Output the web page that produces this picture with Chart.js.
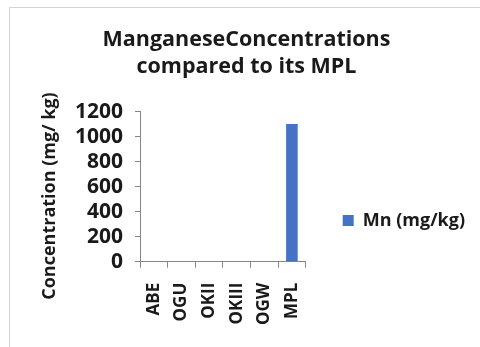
<!DOCTYPE html>
<html>
<head>
<meta charset="utf-8">
<script src="https://cdn.jsdelivr.net/npm/chart.js@4"></script>
<style>
  html, body { margin: 0; padding: 0; background: #fff; }
  #wrap { position: relative; width: 480px; height: 347px; overflow: hidden; }
  #frame { position: absolute; left: 9px; top: 7px; width: 500px; height: 400px;
           border-left: 1px solid #d4d4d4; border-top: 1px solid #d4d4d4; }
  canvas { position: absolute; left: 0; top: 0; }
</style>
</head>
<body>
<div id="wrap">
  <div id="frame"></div>
  <canvas id="chart" width="480" height="347"></canvas>
</div>
<script>
// chart data
const sites = ['ABE', 'OGU', 'OKII', 'OKIII', 'OGW', 'MPL'];
const mnValues = [0, 0, 0, 0, 0, 1100];
const yTicks = [0, 200, 400, 600, 800, 1000, 1200];

const fontFam = "'Open Sans', sans-serif";
const textColor = '#1a1a1a';
const axisColor = '#868686';

function drawChart() {
    const ctx = document.getElementById('chart').getContext('2d');

    const config = {
        type: 'bar',
        data: {
            labels: sites,
            datasets: [{
                label: 'Mn (mg/kg)',
                data: mnValues,
                backgroundColor: '#4472C4',
                categoryPercentage: 1,
                barPercentage: 0.42
            }]
        },
        options: {
            responsive: false,
            animation: false,
            layout: { padding: { left: 18, right: 5, top: 0, bottom: 7 } },
            plugins: {
                title: {
                    display: true,
                    text: ['ManganeseConcentrations', 'compared to its MPL'],
                    color: textColor,
                    font: { family: fontFam, size: 21.5, weight: 'bold', lineHeight: 1.27 },
                    padding: { top: 26, bottom: 31 }
                },
                legend: {
                    position: 'right',
                    maxWidth: 250,
                    title: {
                        display: true,
                        text: ' ',
                        font: { size: 1, lineHeight: 1 },
                        padding: { top: 100, bottom: 0 }
                    },
                    labels: {
                        color: textColor,
                        font: { family: fontFam, size: 18, weight: 'bold' },
                        boxWidth: 11,
                        boxHeight: 11,
                        padding: 37
                    }
                },
                tooltip: { enabled: false }
            },
            scales: {
                x: {
                    grid: { offset: true, drawOnChartArea: false, tickLength: 6, color: axisColor },
                    border: { color: axisColor },
                    ticks: {
                        color: textColor,
                        font: { family: fontFam, size: 17, weight: 'bold' },
                        minRotation: 90,
                        maxRotation: 90,
                        padding: 15
                    }
                },
                y: {
                    min: 0,
                    max: 1200,
                    afterBuildTicks: function(axis) {
                        axis.ticks = yTicks.map(v => ({ value: v }));
                    },
                    afterFit: function(axis) {
                        axis.width = 122;
                    },
                    grid: { drawOnChartArea: false, tickLength: 5, color: axisColor },
                    border: { color: axisColor },
                    ticks: {
                        autoSkip: false,
                        color: textColor,
                        font: { family: fontFam, size: 21, weight: 'bold' },
                        padding: 12,
                        callback: function(value) { return String(value); }
                    },
                    title: {
                        display: true,
                        // trailing spaces nudge the title down a little along the axis
                        text: 'Concentration (mg/ kg)    ',
                        color: textColor,
                        font: { family: fontFam, size: 18, weight: 'bold' },
                        padding: { top: 21, bottom: 10 }
                    }
                }
            }
        }
    };
    new Chart(ctx, config);
}

window.onload = function() {
    drawChart();
};
</script>
</body>
</html>
